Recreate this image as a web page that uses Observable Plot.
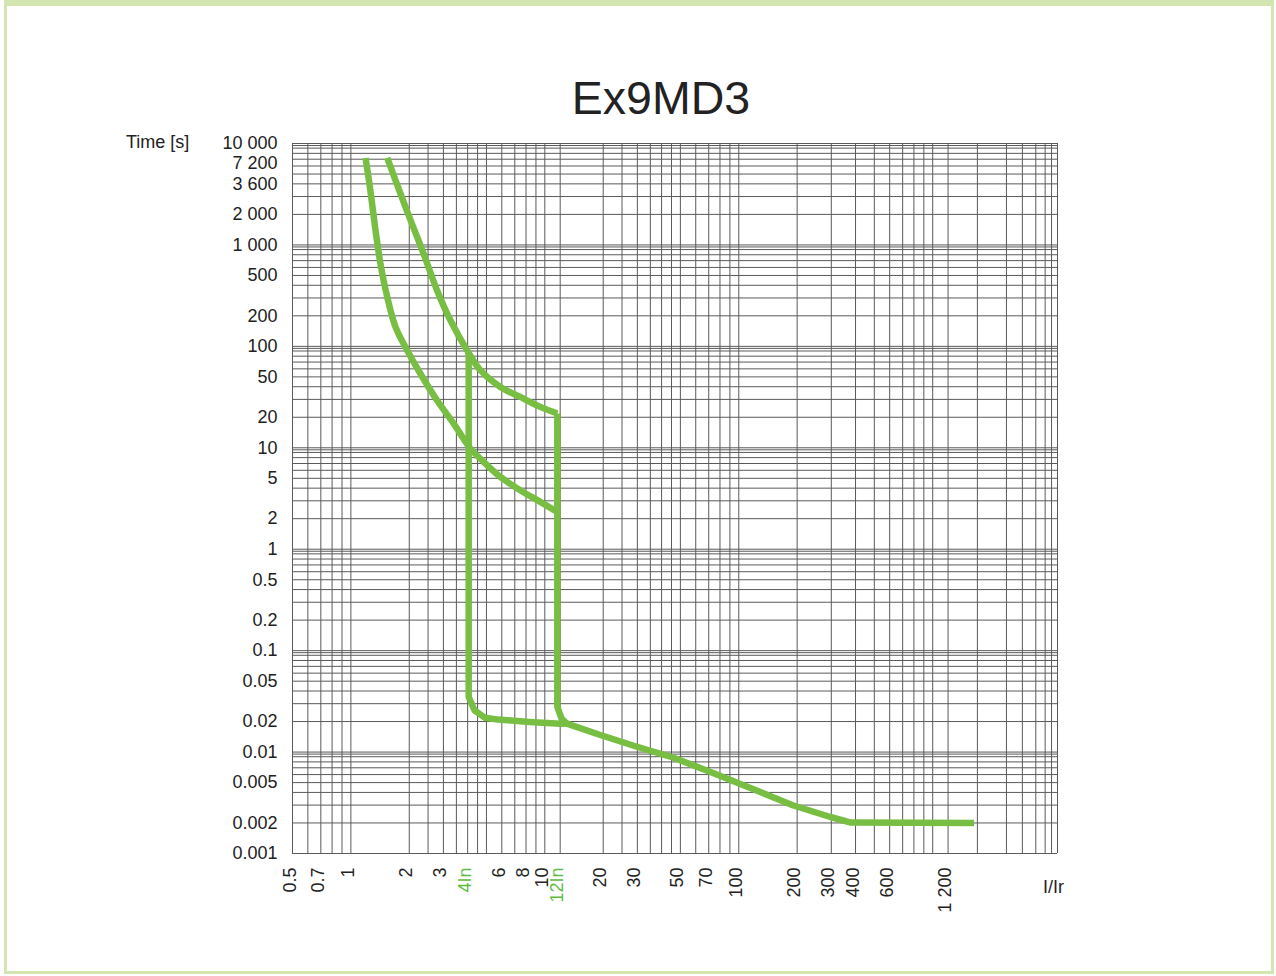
<!DOCTYPE html>
<html>
<head>
<meta charset="utf-8">
<script src="https://cdn.jsdelivr.net/npm/d3@7"></script>
<script src="https://cdn.jsdelivr.net/npm/@observablehq/plot@0.6"></script>
<style>
  html, body { margin: 0; padding: 0; background: #ffffff; }
  body { width: 1276px; height: 976px; position: relative; overflow: hidden;
         font-family: "Liberation Sans", Arial, Helvetica, sans-serif; color: #222; }
  #frame { position: absolute; left: 4px; top: 0; width: 1264px; height: 965px;
           border: 3px solid #d3e5b0; border-top-width: 6px; }
  #chart { position: absolute; left: 0; top: 0; }
  .lbl { position: absolute; white-space: nowrap; }
  #title { left: 661px; top: 71px; transform: translateX(-50%); font-size: 46.5px; color: #222; }
  #ylab { left: 126px; top: 132px; font-size: 18px; color: #222; }
  #xlab { left: 1043px; top: 877px; font-size: 18px; color: #222; }
</style>
</head>
<body>
<div id="frame"></div>
<div id="chart"></div>
<div class="lbl" id="title">Ex9MD3</div>
<div class="lbl" id="ylab">Time [s]</div>
<div class="lbl" id="xlab">I/Ir</div>
<script>
// ---- tick labels ----
const xTicks = [0.5, 0.7, 1, 2, 3, 4, 6, 8, 10, 12, 20, 30, 50, 70, 100, 200, 300, 400, 600, 1200];
const xTickLabels = ["0.5", "0.7", "1", "2", "3", "4In", "6", "8", "10", "12In", "20", "30", "50", "70", "100", "200", "300", "400", "600", "1 200"];
const xGreenTicks = [4, 12];
const yTicks = [10000, 7200, 3600, 2000, 1000, 500, 200, 100, 50, 20, 10, 5, 2, 1, 0.5, 0.2, 0.1, 0.05, 0.02, 0.01, 0.005, 0.002, 0.001];
const yTickLabels = ["10 000", "7 200", "3 600", "2 000", "1 000", "500", "200", "100", "50", "20", "10", "5", "2", "1", "0.5", "0.2", "0.1", "0.05", "0.02", "0.01", "0.005", "0.002", "0.001"];

// ---- grid lines (as drawn on the chart paper) ----
const xGrid = [0.5, 0.6, 0.7, 0.8, 0.9, 1, 2, 2.5, 3, 3.5, 4, 4.5, 5, 6, 7, 8, 9, 10,
  12, 20, 25, 30, 35, 40, 45, 50, 60, 70, 80, 90, 100,
  200, 300, 400, 500, 600, 700, 800, 900, 1000,
  1200, 1700, 2400, 2900, 3400, 3800, 4100, 4400];
const yDecades = [0.001, 0.01, 0.1, 1, 10, 100, 1000, 10000];
const yMinorMultiples = [2, 3, 4, 5, 6, 7, 8, 9];
const yDoubleLine = 0.955;

// ---- curves: I/Ir (x) vs time in s (t) ----
const lowX  = [1.19, 1.26, 1.34, 1.42, 1.54, 1.70, 1.95, 2.28, 2.78, 3.39, 4.13, 4.84, 5.90, 7.47, 9.48, 11.6];
const lowT  = [7200, 3460, 1390, 656, 307, 155, 91.6, 54, 29.4, 17.3, 9.84, 7.26, 5.16, 3.82, 2.93, 2.33];
const highX = [1.54, 1.80, 2.03, 2.37, 2.78, 3.26, 3.97, 4.65, 5.90, 7.47, 9.48, 11.6];
const highT = [7200, 3215, 1754, 823, 358, 181, 91.7, 58.2, 39.8, 31.7, 25.3, 21.8];
const mag4X  = [4.05, 4.05, 4.34, 4.90, 5.77, 8.32, 12.0, 13.0];
const mag4T  = [87, 0.0349, 0.0258, 0.0218, 0.0209, 0.0198, 0.0190, 0.0191];
const mag12X = [11.6, 11.6, 12.2, 13.0];
const mag12T = [21.8, 0.0279, 0.0214, 0.0191];
const tailX = [13.0, 19.5, 29.3, 45.8, 71.5, 116.5, 189.7, 296.7, 378.8, 1634];
const tailT = [0.0191, 0.01466, 0.01142, 0.00884, 0.00637, 0.00437, 0.00299, 0.00229, 0.00202, 0.002];

const green = "#77be43";
const labelGreen = "#5dba3f";
const gridColor = "#5a5a5a";

const yGrid = [];
for (const d of yDecades) {
  yGrid.push(d);
  if (d > 0.001) yGrid.push(d * yDoubleLine);
  if (d < 10000) for (const k of yMinorMultiples) yGrid.push(d * k);
}
const rows = (xs, ts, s) => xs.map((x, i) => ({x, t: ts[i], s}));
const thermal = [...rows(lowX, lowT, "low"), ...rows(highX, highT, "high")];
const magnetic = [...rows(mag4X, mag4T, "m4"), ...rows(mag12X, mag12T, "m12"), ...rows(tailX, tailT, "tail")];

const xLabel = new Map(xTicks.map((v, i) => [v, xTickLabels[i]]));
const yLabel = new Map(yTicks.map((v, i) => [v, yTickLabels[i]]));
const yTextOpts = {y: d => d, frameAnchor: "left", text: d => yLabel.get(d), textAnchor: "end", dx: -15, fill: "#222", fontSize: 18};

const chart = Plot.plot({
  width: 1276,
  height: 976,
  marginLeft: 292,
  marginRight: 219,
  marginTop: 143,
  marginBottom: 123,
  x: {type: "log", domain: [0.5, 4400], axis: null},
  y: {type: "log", domain: [0.001, 10000], axis: null},
  style: {fontFamily: "'Liberation Sans', Arial, Helvetica, sans-serif", fontSize: "18px", color: "#222", background: "transparent", overflow: "visible"},
  marks: [
    Plot.ruleX(xGrid, {stroke: gridColor, strokeWidth: 1}),
    Plot.ruleY(yGrid, {stroke: gridColor, strokeWidth: 1}),
    Plot.line(thermal, {x: "x", y: "t", z: "s", stroke: green, strokeWidth: 6.5, curve: "catmull-rom", strokeLinecap: "butt", strokeLinejoin: "round"}),
    Plot.line(magnetic, {x: "x", y: "t", z: "s", stroke: green, strokeWidth: 6.5, strokeLinecap: "butt", strokeLinejoin: "round"}),
    // y tick labels (the 7 200 and 3 600 labels sit slightly off their lines, as on the original sheet)
    Plot.text(yTicks.filter(d => d !== 7200 && d !== 3600), yTextOpts),
    Plot.text(yTicks.filter(d => d === 7200), {...yTextOpts, dy: 5}),
    Plot.text(yTicks.filter(d => d === 3600), {...yTextOpts, dy: -4}),
    // x tick labels (rotated)
    Plot.text(xTicks, {x: d => d, frameAnchor: "bottom", text: d => xLabel.get(d), rotate: -90, textAnchor: "end", dx: 3, dy: 14, fontSize: 18,
      fill: d => xGreenTicks.includes(d) ? labelGreen : "#222"})
  ]
});
document.getElementById("chart").appendChild(chart);
</script>
</body>
</html>
